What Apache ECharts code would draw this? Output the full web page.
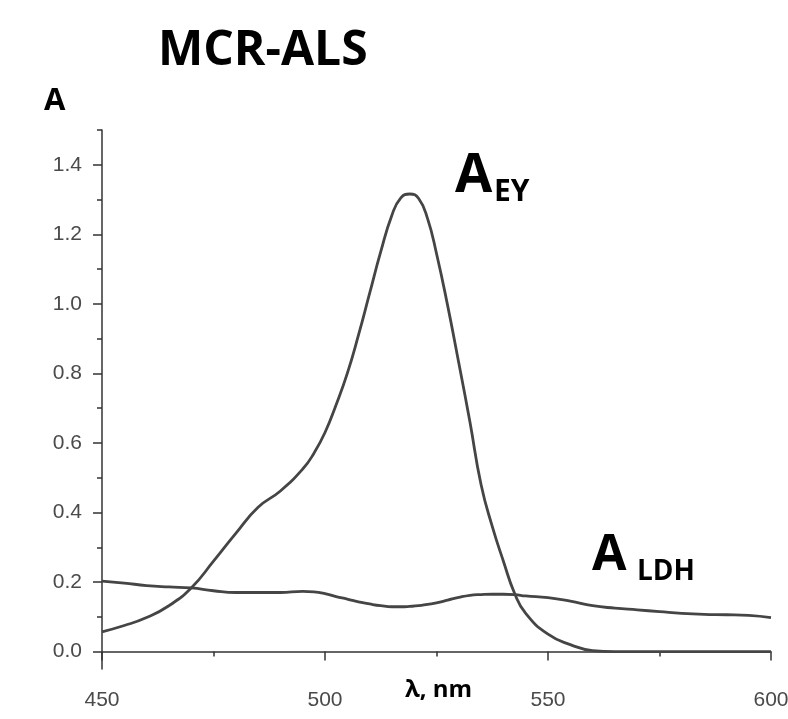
<!DOCTYPE html>
<html>
<head>
<meta charset="utf-8">
<title>MCR-ALS</title>
<script src="https://cdn.jsdelivr.net/npm/echarts@6/dist/echarts.min.js"></script>
<style>
  html, body { margin: 0; padding: 0; background: #fff; }
  #chart { width: 788px; height: 719px; }
</style>
</head>
<body>
<div id="chart"></div>
<script>
// wavelength, nm
var wavelengths = [450, 455, 460, 465, 470, 475, 480, 485, 490, 495, 497.5, 500, 502.5, 505, 507.5, 510, 512.5, 515, 517, 519, 521, 523,
  525, 527.5, 530, 532.5, 535, 537.5, 540, 542.5, 545, 550, 555, 560, 565, 570, 575, 580, 585, 590, 595, 600];
// eosin Y spectrum
var eyValues = [0.057, 0.075, 0.098, 0.132, 0.183, 0.26, 0.34, 0.415, 0.462, 0.525, 0.57, 0.63, 0.71, 0.80, 0.91, 1.03, 1.15, 1.255, 1.305, 1.316, 1.303, 1.245,
  1.145, 0.995, 0.83, 0.66, 0.48, 0.36, 0.26, 0.168, 0.11, 0.05, 0.02, 0.003, 0, 0, 0, 0, 0, 0, 0, 0];
// LDH spectrum
var ldhValues = [0.203, 0.197, 0.19, 0.186, 0.183, 0.175, 0.17, 0.17, 0.17, 0.173, 0.172, 0.167, 0.158, 0.151, 0.143, 0.137, 0.132, 0.129, 0.129, 0.13, 0.132, 0.136,
  0.14, 0.148, 0.156, 0.162, 0.164, 0.165, 0.165, 0.164, 0.16, 0.155, 0.145, 0.132, 0.125, 0.12, 0.115, 0.11, 0.107, 0.106, 0.104, 0.098];

var xLabels = [450, 500, 550, 600];
var xMinorTicks = [475, 525, 575];
var yLabels = [0, 0.2, 0.4, 0.6, 0.8, 1.0, 1.2, 1.4];
var yMinorTicks = [0.1, 0.3, 0.5, 0.7, 0.9, 1.1, 1.3, 1.5];

var lineColor = '#454545';
var boldFont = '"Open Sans", "Noto Sans", sans-serif';

function pairs(xs, ys) {
  return xs.map(function (x, i) { return [x, ys[i]]; });
}

var chart = echarts.init(document.getElementById('chart'));

var option = {
  backgroundColor: '#fff',
  animation: false,
  grid: { left: 102, right: 17, top: 130, bottom: 50, containLabel: false, outerBoundsMode: 'none' },
  xAxis: [
    {
      type: 'value',
      min: 450,
      max: 600,
      splitLine: { show: false },
      axisLine: { lineStyle: { color: '#333', width: 1.5 } },
      axisTick: { show: true, length: 9, customValues: xLabels, lineStyle: { color: '#333', width: 1.5 } },
      axisLabel: {
        customValues: xLabels,
        margin: 21,
        fontFamily: '"Liberation Sans", Arial, sans-serif',
        fontSize: 21,
        color: '#4a4a4a'
      }
    },
    {
      type: 'value',
      min: 450,
      max: 600,
      position: 'bottom',
      splitLine: { show: false },
      axisLine: { show: false },
      axisTick: { show: true, length: 5, customValues: xMinorTicks, lineStyle: { color: '#333', width: 1.5 } },
      axisLabel: { show: false }
    }
  ],
  yAxis: [
    {
      type: 'value',
      min: -0.05,
      max: 1.5,
      splitLine: { show: false },
      axisLine: { show: true, lineStyle: { color: '#333', width: 1.5 } },
      axisTick: { show: true, length: 9, customValues: yLabels, lineStyle: { color: '#333', width: 1.5 } },
      axisLabel: {
        customValues: yLabels,
        margin: 20,
        fontFamily: '"Liberation Sans", Arial, sans-serif',
        fontSize: 21,
        color: '#4a4a4a',
        formatter: function (v) { return v.toFixed(1); }
      }
    },
    {
      type: 'value',
      min: -0.05,
      max: 1.5,
      position: 'left',
      splitLine: { show: false },
      axisLine: { show: false },
      axisTick: { show: true, length: 5, customValues: yMinorTicks, lineStyle: { color: '#333', width: 1.5 } },
      axisLabel: { show: false }
    }
  ],
  series: [
    {
      name: 'EY',
      type: 'line',
      data: pairs(wavelengths, eyValues),
      smooth: 0.5,
      showSymbol: false,
      lineStyle: { color: lineColor, width: 2.8 }
    },
    {
      name: 'LDH',
      type: 'line',
      data: pairs(wavelengths, ldhValues),
      smooth: 0.5,
      showSymbol: false,
      lineStyle: { color: lineColor, width: 2.8 }
    }
  ],
  graphic: [
    {
      type: 'text', left: 158, top: 27,
      style: { text: 'MCR-ALS', font: 'bold 48px ' + boldFont, fill: '#000' }
    },
    {
      type: 'text', left: 44, top: 86,
      style: { text: 'A', font: 'bold 31px ' + boldFont, fill: '#000' }
    },
    {
      type: 'text', left: 455, top: 150,
      style: { text: 'A', font: 'bold 54px ' + boldFont, fill: '#000' }
    },
    {
      type: 'text', left: 494, top: 177,
      style: { text: 'EY', font: 'bold 30px ' + boldFont, fill: '#000' }
    },
    {
      type: 'text', left: 592, top: 531,
      style: { text: 'A', font: 'bold 50px ' + boldFont, fill: '#000' }
    },
    {
      type: 'text', left: 637, top: 558,
      style: { text: 'LDH', font: 'bold 28px ' + boldFont, fill: '#000' }
    },
    {
      type: 'text', x: 438.5, y: 678,
      style: { text: 'λ, nm', font: 'bold 24px ' + boldFont, fill: '#000', textAlign: 'center' }
    }
  ]
};

chart.setOption(option);
</script>
</body>
</html>
